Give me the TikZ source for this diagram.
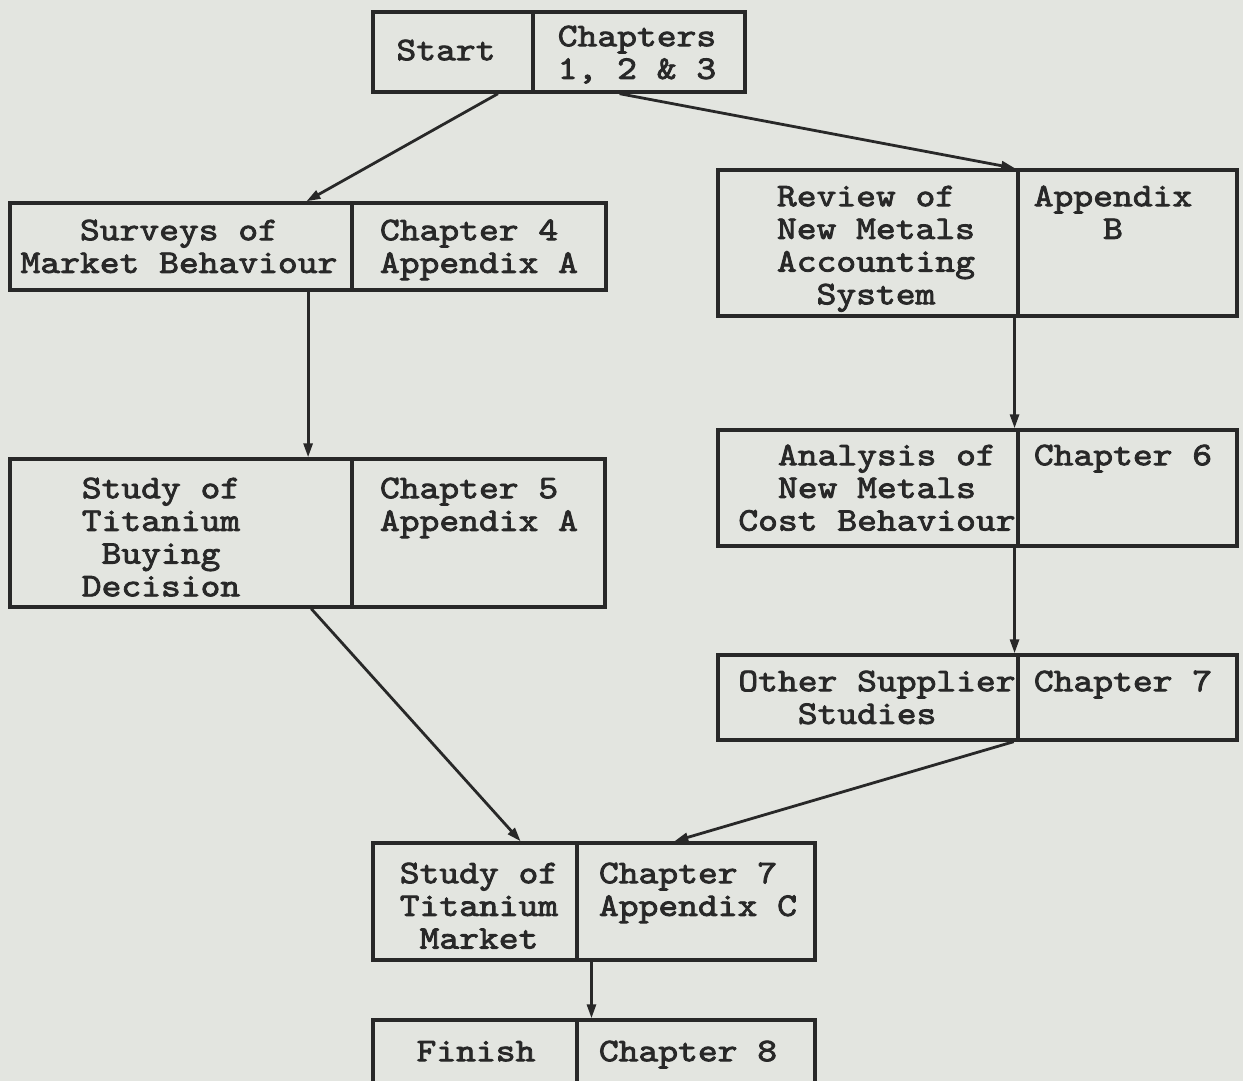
\documentclass[tikz,border=0pt]{standalone}
\usepackage{fontspec}
\usetikzlibrary{arrows.meta,calc}
\newfontfamily\twfont[FakeBold=2.5,FakeStretch=1.143]{lmmono10-regular.otf}
\newcommand\tw{\twfont\fontsize{33pt}{32.7pt}\selectfont}
% uniform first-line height so every text block starts at the same offset
\newcommand\tl{\rule{0pt}{24pt}}
\definecolor{paper}{RGB}{227,229,224}
\definecolor{ink}{RGB}{40,40,40}
\tikzset{
  cell/.style={draw=ink, line width=3.4pt, inner sep=0pt, rectangle},
  txt/.style={font=\tw, text=ink, inner sep=0pt, anchor=north},
  conn/.style={draw=ink, line width=2.8pt, -{Triangle[length=14pt,width=9pt]}},
}
% \cell{name}{x1}{y1}{x2}{y2}
\newcommand\cell[5]{\node[cell, minimum width={#4-#2}, minimum height={#5-#3}] (#1) at ({(#2+#4)/2},{(#3+#5)/2}) {};}
\begin{document}
\begin{tikzpicture}[x=1pt,y=-1pt]
\useasboundingbox (0,0) rectangle (1243,1081);
\fill[paper] (0,0) rectangle (1243,1081);
\clip (0,0) rectangle (1243,1081);

% boxes, each split into a description cell and a reference cell
\cell{startL}{373}{12}{533}{92}
\cell{startR}{533}{12}{745}{92}
\cell{surveysL}{10}{203}{352}{290}
\cell{surveysR}{352}{203}{606}{290}
\cell{reviewL}{718}{170}{1018}{316}
\cell{reviewR}{1018}{170}{1237}{316}
\cell{studyL}{10}{459}{352}{607}
\cell{studyR}{352}{459}{605}{607}
\cell{analysisL}{718}{430}{1018}{546}
\cell{analysisR}{1018}{430}{1237}{546}
\cell{otherL}{718}{655}{1018}{740}
\cell{otherR}{1018}{655}{1237}{740}
\cell{marketL}{373}{843}{577}{960}
\cell{marketR}{577}{843}{815}{960}
\cell{finishL}{373}{1020}{577}{1110}
\cell{finishR}{577}{1020}{815}{1110}

% texts
\node[txt] (startLt) at (446,36) {\tl Start};
\node[txt, align=left] (startRt) at (637,22) {\tl Chapters\\1, 2 \& 3};
\node[txt, align=center] (surveysLt) at (179,216) {\tl Surveys of\\Market Behaviour};
\node[txt, align=left] (surveysRt) at (479,216) {\tl Chapter 4\\Appendix A};
\node[txt, align=left] (reviewLt) at (876,182) {\tl Review of\\New Metals\\Accounting\\\phantom{xx}System};
\node[txt, align=center] (reviewRt) at (1113,182) {\tl Appendix\\B};
\node[txt, align=left] (studyLt) at (161,474) {\tl Study of\\Titanium\\\phantom{x}Buying\\Decision};
\node[txt, align=left] (studyRt) at (479,474) {\tl Chapter 5\\Appendix A};
\node[txt, align=left] (analysisLt) at (877,441) {\tl\phantom{xx}Analysis of\\\phantom{xx}New Metals\\Cost Behaviour};
\node[txt] (analysisRt) at (1123,441) {\tl Chapter 6};
\node[txt, align=left] (otherLt) at (877,667) {\tl Other Supplier\\\phantom{xxx}Studies};
\node[txt] (otherRt) at (1123,667) {\tl Chapter 7};
\node[txt, align=left] (marketLt) at (479,859) {\tl Study of\\Titanium\\\phantom{x}Market};
\node[txt, align=left] (marketRt) at (698,859) {\tl Chapter 7\\Appendix C};
\node[txt] (finishLt) at (476,1037) {\tl Finish};
\node[txt] (finishRt) at (688,1037) {\tl Chapter 8};

% connectors
\draw[conn] ($(startL.south west)!0.775!(startL.south east)$) -- ($(surveysL.north west)!0.863!(surveysL.north east)$);
\draw[conn] ($(startR.south west)!0.41!(startR.south east)$) -- ($(reviewL.north west)!0.985!(reviewL.north east)$);
\coordinate (p1) at ($(surveysL.south west)!0.868!(surveysL.south east)$);
\draw[conn] (p1) -- (p1 |- studyL.north);
\coordinate (p2) at ($(reviewL.south west)!0.983!(reviewL.south east)$);
\draw[conn] (p2) -- (p2 |- analysisL.north);
\coordinate (p3) at ($(analysisL.south west)!0.983!(analysisL.south east)$);
\draw[conn] (p3) -- (p3 |- otherL.north);
\draw[conn] ($(studyL.south west)!0.877!(studyL.south east)$) -- ($(marketL.north west)!0.72!(marketL.north east)$);
\draw[conn] ($(otherL.south west)!0.98!(otherL.south east)$) -- ($(marketR.north west)!0.41!(marketR.north east)$);
\coordinate (p4) at ($(marketR.south west)!0.067!(marketR.south east)$);
\draw[conn] (p4) -- (p4 |- finishR.north);
\end{tikzpicture}
\end{document}
